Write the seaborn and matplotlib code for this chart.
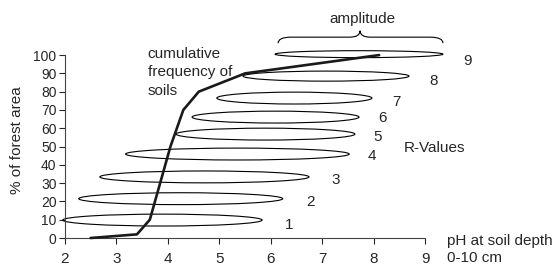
import matplotlib
matplotlib.use("Agg")
import matplotlib.pyplot as plt
from matplotlib.patches import Ellipse, PathPatch
from matplotlib.path import Path
import pandas as pd
import seaborn as sns

# cumulative frequency of soils
ph_values = [2.5, 3.4, 3.65, 3.8, 3.87, 4.05, 4.3, 4.6, 5.5, 8.1]
cum_pct = [0, 2, 10, 25, 32, 50, 70, 80, 90, 100]

# R-value amplitudes (pH range per class)
r_values = [1, 2, 3, 4, 5, 6, 7, 8, 9]
r_low = [1.96, 2.27, 2.68, 3.18, 4.16, 4.47, 4.95, 5.46, 6.08]
r_high = [5.83, 6.23, 6.74, 7.52, 7.63, 7.71, 7.96, 8.68, 9.34]
r_pct = [9.8, 21.5, 33.4, 45.9, 56.8, 66.1, 76.5, 88.5, 100.5]
r_thick = [6.5, 6.5, 6.5, 6.5, 6.5, 6.5, 6.5, 5.5, 3.8]

# where the class numbers sit
r_label_x = [6.35, 6.76, 7.26, 7.96, 8.08, 8.17, 8.43, 9.15, 9.81]
r_label_y = [7.1, 19.7, 31.7, 44.8, 55.2, 65.6, 74.3, 85.8, 96.7]

x_ticks = [2, 3, 4, 5, 6, 7, 8, 9]
y_ticks = [0, 10, 20, 30, 40, 50, 60, 70, 80, 90, 100]

sns.set_style("ticks")
plt.rcParams['font.family'] = ['Liberation Sans', 'DejaVu Sans']

fig = plt.figure(figsize=(5.54, 2.70), dpi=100)
ax = fig.add_axes([0.117, 0.1185, 0.651, 0.6775])

curve = pd.DataFrame({'ph': ph_values, 'pct': cum_pct})

# ellipses first, curve on top
for lo, hi, y, h in zip(r_low, r_high, r_pct, r_thick):
    ax.add_patch(Ellipse(((lo + hi) / 2, y), hi - lo, h, fill=False,
                         edgecolor='black', linewidth=0.8, clip_on=False))

sns.lineplot(data=curve, x='ph', y='pct', sort=False, color='#1a1a1a',
             linewidth=1.9, ax=ax, clip_on=False, zorder=3)

fs = 11
for r, x, y in zip(r_values, r_label_x, r_label_y):
    ax.text(x, y, str(r), fontsize=fs, ha='center', va='center', clip_on=False)

ax.text(9.17, 49.2, 'R-Values', fontsize=fs, ha='center', va='center')
ax.text(3.61, 100.5, 'cumulative', fontsize=fs, ha='left', va='center')
ax.text(3.61, 90.7, 'frequency of', fontsize=fs, ha='left', va='center')
ax.text(3.61, 80.3, 'soils', fontsize=fs, ha='left', va='center')
ax.text(9.42, -1.6, 'pH at soil depth', fontsize=fs, ha='left', va='center')
ax.text(9.42, -11, '0-10 cm', fontsize=fs, ha='left', va='center')
ax.text(7.78, 119.7, 'amplitude', fontsize=fs, ha='center', va='center')

# curly brace over the widest amplitude
bx0, bx1, tip = 6.14, 9.34, 7.73
yb, ym, yt = 106.5, 109.8, 113.3
verts = [(bx0, yb), (bx0, ym), (bx0 + 0.25, ym),
         (tip - 0.2, ym),
         (tip, ym), (tip, yt),
         (tip, ym), (tip + 0.2, ym),
         (bx1 - 0.25, ym),
         (bx1, ym), (bx1, yb)]
codes = [Path.MOVETO, Path.CURVE3, Path.CURVE3,
         Path.LINETO,
         Path.CURVE3, Path.CURVE3,
         Path.CURVE3, Path.CURVE3,
         Path.LINETO,
         Path.CURVE3, Path.CURVE3]
ax.add_patch(PathPatch(Path(verts, codes), fill=False, edgecolor='black',
                       linewidth=0.8, clip_on=False))

ax.set_xlim(2, 9)
ax.set_ylim(0, 100)
ax.set_xticks(x_ticks)
ax.set_yticks(y_ticks)
ax.set_xlabel('')
ax.set_ylabel('')
ax.tick_params(axis='x', length=4, width=0.8, pad=6, labelsize=11)
ax.tick_params(axis='y', length=4, width=0.8, pad=2, labelsize=10)
for s in ['left', 'bottom']:
    ax.spines[s].set_linewidth(0.8)
    ax.spines[s].set_color('#444444')
sns.despine(ax=ax)

fig.text(17 / 554, 1 - 140 / 270, '% of forest area', rotation=90,
         fontsize=11, ha='center', va='center')

fig.savefig('out.png', dpi=100)
